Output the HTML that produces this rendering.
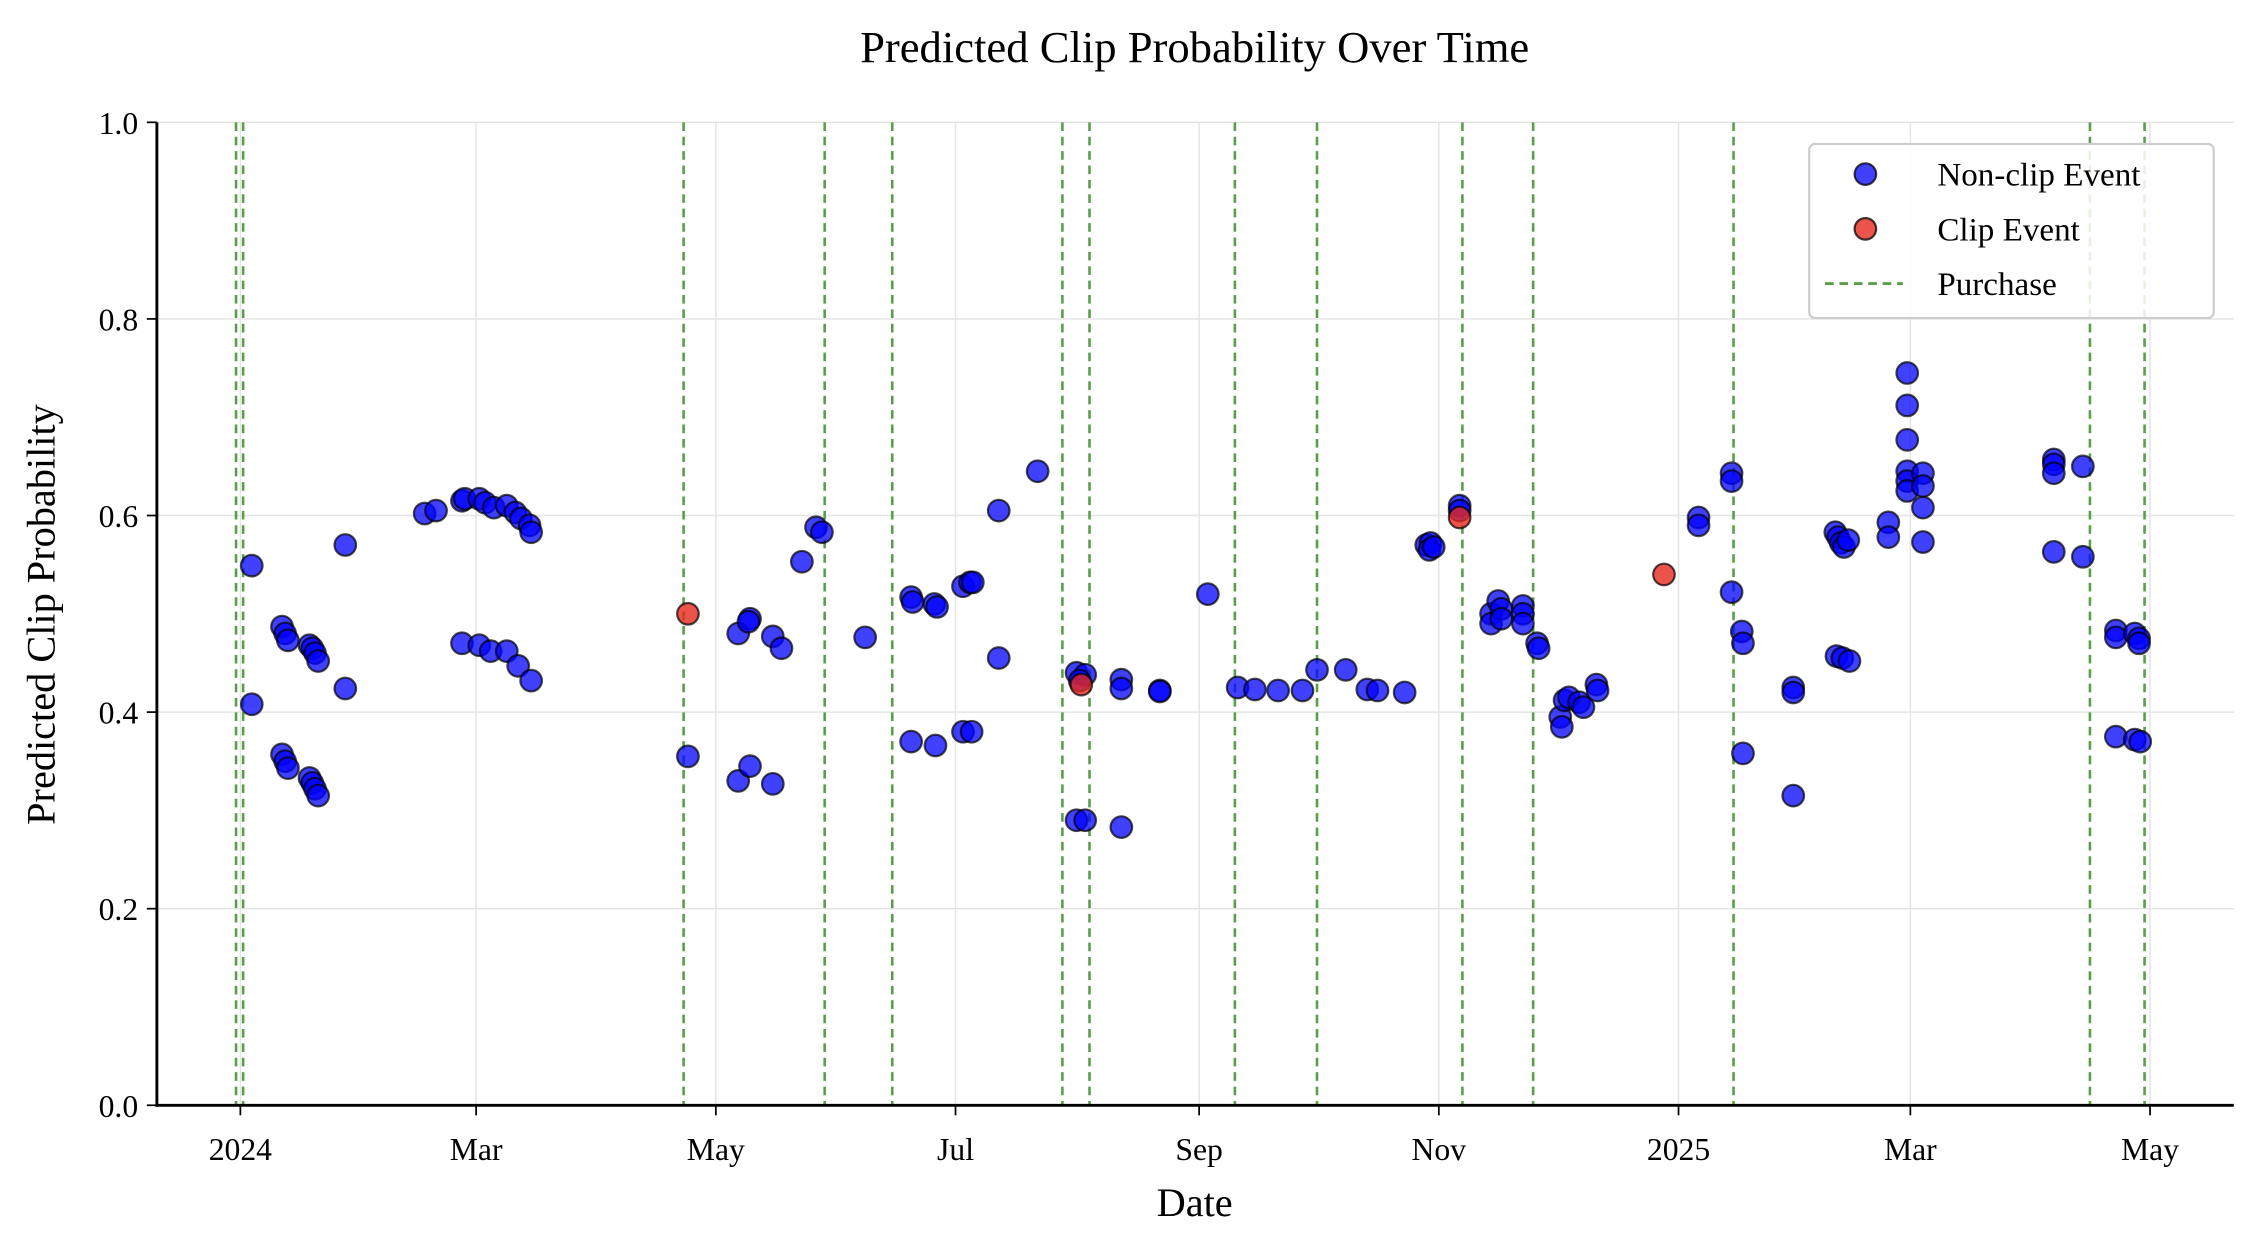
<!DOCTYPE html>
<html><head><meta charset="utf-8"><style>
html,body{margin:0;padding:0;background:#fff;}
svg{display:block;font-family:"Liberation Serif",serif;}
</style></head><body>
<svg id="chart" width="2254" height="1242" viewBox="0 0 1566 863" preserveAspectRatio="none" xmlns="http://www.w3.org/2000/svg">
<text x="830" y="43" text-anchor="middle" font-size="31">Predicted Clip Probability Over Time</text>
<g id="grid"></g><g id="purchases"></g><g id="points"></g><g id="axes"></g>
<text x="830" y="845" text-anchor="middle" font-size="28">Date</text>
<text transform="translate(38,427) rotate(-90)" text-anchor="middle" font-size="28">Predicted Clip Probability</text>
<g>
<rect x="1257" y="100" width="281" height="121" rx="4" fill="#fff" fill-opacity="0.85" stroke="#ccc" stroke-width="1.5"/>
<circle cx="1296" cy="121" r="7.5" fill="rgba(0,0,255,0.75)" stroke="rgba(0,0,0,0.75)" stroke-width="1.5"/>
<text x="1346" y="129" font-size="23">Non-clip Event</text>
<circle cx="1296" cy="159" r="7.5" fill="rgba(230,40,30,0.8)" stroke="rgba(0,0,0,0.75)" stroke-width="1.5"/>
<text x="1346" y="167" font-size="23">Clip Event</text>
<line x1="1268" y1="197" x2="1322" y2="197" stroke="#5a9e4a" stroke-width="2" stroke-dasharray="6,4"/>
<text x="1346" y="205" font-size="23">Purchase</text>
</g>
</svg>
<script>
const xTickLabels=["2024","Mar","May","Jul","Sep","Nov","2025","Mar","May"];
const xTickDays=[0,60,121,182,244,305,366,425,486];
const yTicks=[0,0.2,0.4,0.6,0.8,1.0];
const purchaseDays=[-1.1,0.7,112.8,148.7,165.9,209.2,216.1,253.1,274,311,329,380,470.7,484.6];
const nonclipDays=[2.9,2.9,10.6,11.4,12.1,10.6,11.4,12.1,17.6,18.3,19,19.8,17.6,18.3,19,19.8,26.7,26.7,46.9,49.8,
56.4,57.1,60.8,62.3,64.5,67.8,70,71.4,73.6,74,56.4,60.8,63.7,67.8,70.7,74,
113.9,126.7,129.7,129.3,135.5,137.7,126.7,129.7,135.5,142.9,146.5,148,159,
170.7,171.1,176.6,177.3,170.7,176.9,183.9,185.7,186.4,183.9,186.1,193,193,202.9,
212.8,215,213.6,212.8,215,224.2,224.2,224.2,234,234,246.2,
253.8,258.2,264.1,270.3,274,281.3,286.8,289.4,296.3,301.8,302.9,302.6,303.7,310.3,310.3,
318.3,318.3,320.1,320.9,320.9,326.4,326.4,326.4,330,330.4,
335.9,336.3,337,338.1,340.7,341.8,345.1,345.4,371.1,371.1,
379.5,379.5,379.5,382.1,382.4,382.4,395.2,395.2,395.2,
405.9,406.6,407.3,408.1,409.2,406.2,407.7,409.5,419.4,419.4,
424.2,424.2,424.2,424.2,424.2,424.2,428.2,428.2,428.2,428.2,
461.5,461.5,461.5,461.5,468.9,468.9,477.3,477.3,477.3,482.1,483.2,483.2,482.1,483.5];
const nonclipProb=[0.549,0.408,0.487,0.48,0.473,0.357,0.35,0.343,0.468,0.465,0.46,0.452,0.333,0.328,0.322,0.315,0.57,0.424,0.602,0.605,
0.615,0.617,0.617,0.613,0.608,0.61,0.603,0.597,0.59,0.583,0.47,0.468,0.462,0.462,0.447,0.432,
0.355,0.48,0.495,0.492,0.477,0.465,0.33,0.345,0.327,0.553,0.588,0.583,0.476,
0.517,0.512,0.51,0.507,0.37,0.366,0.528,0.532,0.532,0.38,0.38,0.455,0.605,0.645,
0.44,0.438,0.432,0.29,0.29,0.433,0.424,0.283,0.422,0.421,0.52,
0.425,0.423,0.422,0.422,0.443,0.443,0.423,0.422,0.42,0.57,0.572,0.565,0.568,0.61,0.605,
0.5,0.49,0.513,0.505,0.495,0.508,0.5,0.49,0.47,0.465,
0.395,0.385,0.412,0.415,0.41,0.405,0.428,0.422,0.598,0.59,
0.643,0.635,0.522,0.482,0.47,0.358,0.425,0.42,0.315,
0.583,0.578,0.572,0.568,0.575,0.457,0.455,0.452,0.593,0.578,
0.745,0.712,0.677,0.645,0.635,0.625,0.643,0.63,0.608,0.573,
0.657,0.652,0.643,0.563,0.65,0.558,0.483,0.476,0.375,0.48,0.475,0.47,0.372,0.37];
const clipDays=[113.9,214,310.3,362.3];
const clipProb=[0.5,0.428,0.598,0.54];

const NS="http://www.w3.org/2000/svg";
const L=109,R=1552,T=85,B=768;
function xs(d){return 167+2.73*d;}
function ys(v){return B-(B-T)*v;}
function mk(tag,attrs,parent){const e=document.createElementNS(NS,tag);for(const k in attrs)e.setAttribute(k,attrs[k]);parent.appendChild(e);return e;}
const grid=document.getElementById('grid'),axes=document.getElementById('axes'),pur=document.getElementById('purchases'),pts=document.getElementById('points');
xTickDays.forEach((d,i)=>{
  const g=mk('line',{x1:xs(d),x2:xs(d),y1:T,y2:B,stroke:'#e4e4e4','stroke-width':1},grid);
  
  
  const t=mk('line',{x1:xs(d),x2:xs(d),y1:B,y2:B+7,stroke:'#000','stroke-width':1.2},axes);
  
  
  const tx=mk('text',{x:xs(d),y:B+38,'text-anchor':'middle','font-size':22},axes);
  tx.textContent=xTickLabels[i];
  
  
});
yTicks.forEach(v=>{
  const g=mk('line',{x1:L,x2:R,y1:ys(v),y2:ys(v),stroke:'#e4e4e4','stroke-width':1},grid);
  
  
  const t=mk('line',{x1:L-7,x2:L,y1:ys(v),y2:ys(v),stroke:'#000','stroke-width':1.2},axes);
  
  
  const tx=mk('text',{x:L-13,y:ys(v)+8,'text-anchor':'end','font-size':22},axes);
  tx.textContent=v.toFixed(1);
  
  
});
const sl=mk('line',{x1:L,x2:L,y1:T,y2:B+1,stroke:'#000','stroke-width':2},axes);


const sb=mk('line',{x1:L-1,x2:R,y1:B,y2:B,stroke:'#000','stroke-width':2},axes);


purchaseDays.forEach(d=>{
  const l=mk('line',{x1:xs(d),x2:xs(d),y1:T,y2:B,stroke:'#5a9e4a','stroke-width':1.8,'stroke-dasharray':'6,4'},pur);
  
  
});
nonclipDays.forEach((d,i)=>{
  const c=mk('circle',{cx:xs(d),cy:ys(nonclipProb[i]),r:7.5,fill:'rgba(0,0,255,0.75)',stroke:'rgba(0,0,0,0.7)','stroke-width':1.5},pts);
  
  
});
clipDays.forEach((d,i)=>{
  const c=mk('circle',{cx:xs(d),cy:ys(clipProb[i]),r:7.5,fill:'rgba(230,40,30,0.8)',stroke:'rgba(0,0,0,0.7)','stroke-width':1.5},pts);
  
  
});
</script>
</body></html>
